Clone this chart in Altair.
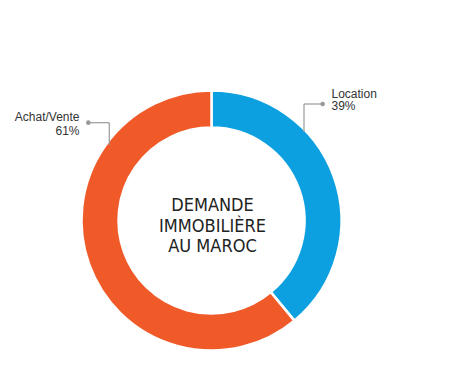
import altair as alt
import pandas as pd

categories = ["Location", "Achat/Vente"]
values = [39, 61]
colors = ["#0DA0E0", "#F05A28"]
order = [1, 2]

label_lines1 = ["Location", "Achat/Vente"]
label_lines2 = ["39%", "61%"]

# annotation layout (chart pixel coordinates)
lab_x = [323.5, 71.5]
lab_y1 = [90, 113]
lab_y2 = [102, 127]
lab_align = ["left", "right"]
dot_x = [314.7, 80.3]
dot_y = [96, 114.7]
elbow_x = [296, 101.3]
end_y = [124, 137]

center_lines = ["DEMANDE", "IMMOBILIÈRE", "AU MAROC"]
center_y = [198, 218.5, 239]

W, H = 434, 370
CX, CY = 203.5, 212.5

df = pd.DataFrame({"cat": categories, "value": values, "order": order})

xs = alt.Scale(domain=[0, W], range=[0, W])
ys = alt.Scale(domain=[0, H], range=[0, H])

arc = alt.Chart(df).mark_arc(
    outerRadius=130, innerRadius=93, stroke="white", strokeWidth=2.5
).encode(
    theta=alt.Theta("value:Q", stack=True),
    order=alt.Order("order:Q"),
    color=alt.Color("cat:N", scale=alt.Scale(domain=categories, range=colors), legend=None),
    x=alt.value(CX),
    y=alt.value(CY),
)

cdf = pd.DataFrame({"t": center_lines, "y": center_y, "x": [CX + 1] * 3})
center = alt.Chart(cdf).mark_text(
    font="Liberation Sans Narrow, Noto Sans Condensed, DejaVu Sans Condensed, sans-serif",
    fontSize=18, color="#222222", baseline="middle", align="center"
).encode(
    x=alt.X("x:Q", scale=xs, axis=None),
    y=alt.Y("y:Q", scale=ys, axis=None),
    text="t:N",
)

ldf = pd.DataFrame({
    "cat": categories, "l1": label_lines1, "l2": label_lines2,
    "lx": lab_x, "ly1": lab_y1, "ly2": lab_y2, "align": lab_align,
    "dx": dot_x, "dy": dot_y, "ex": elbow_x, "ey": end_y,
})

base = alt.Chart(ldf)
enc_x = lambda f: alt.X(f, scale=xs, axis=None)
enc_y = lambda f: alt.Y(f, scale=ys, axis=None)

texts = []
for i, al in enumerate(lab_align):
    sub = alt.Chart(ldf.iloc[[i]])
    for fy, ft in (("ly1:Q", "l1:N"), ("ly2:Q", "l2:N")):
        texts.append(sub.mark_text(
            font="Liberation Sans, Arial, sans-serif", fontSize=12,
            color="#333333", align=al, baseline="alphabetic"
        ).encode(x=enc_x("lx:Q"), y=enc_y(fy), text=ft))

hline = base.mark_rule(color="#999999", strokeWidth=1.2).encode(
    x=enc_x("dx:Q"), x2="ex:Q", y=enc_y("dy:Q")
)
vline = base.mark_rule(color="#999999", strokeWidth=1.2).encode(
    x=enc_x("ex:Q"), y=enc_y("dy:Q"), y2="ey:Q"
)
dots = base.mark_point(filled=True, size=22, color="#999999", opacity=1).encode(
    x=enc_x("dx:Q"), y=enc_y("dy:Q")
)

chart = alt.layer(arc, center, hline, vline, dots, *texts).properties(
    width=W, height=H, padding=0, background="white",
    autosize=alt.AutoSizeParams(type="none")
).configure_view(stroke=None)

chart.save("out.html", embed_options={"renderer": "svg", "actions": False})
